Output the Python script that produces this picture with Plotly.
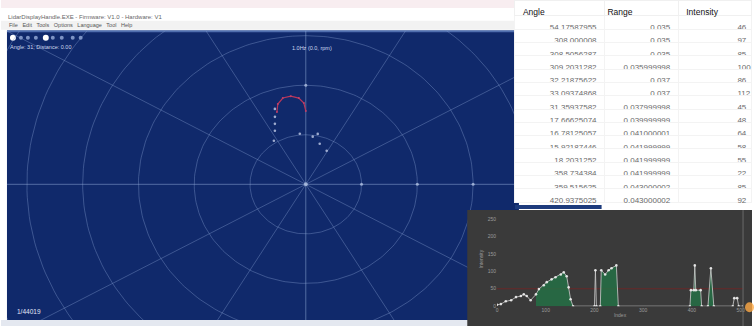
import numpy as np
import plotly.graph_objects as go

W, H = 754, 329

# ---------------- data ----------------
# Table of lidar samples
table_header = ["Angle", "Range", "Intensity"]
table_angle = ["54.17587955", "308.000008", "308.5056287", "309.2031282", "32.21875622",
               "33.09374868", "31.35937582", "17.66625074", "16.78125057", "15.92187446",
               "18.2031252", "358.734384", "359.515625", "420.9375025"]
table_range = ["0.035", "0.035", "0.035", "0.035999998", "0.037", "0.037", "0.037999998",
               "0.039999999", "0.041000001", "0.041999999", "0.041999999", "0.041999999",
               "0.043000002", "0.043000002"]
table_intensity = ["46", "97", "85", "100", "86", "112", "45", "48", "64", "58", "55", "22", "85", "92"]

# Radar view points (angle in degrees clockwise from up, range in metres)
arc_angle = [340.5, 342.8, 346.7, 351.4, 355.9, 358.8, 0.0]
arc_range = [0.0310, 0.0339, 0.0358, 0.0360, 0.0349, 0.0328, 0.0296]
pts_angle = [340.0, 337.9, 335.6, 332.9, 327.0, 354.0, 7.4, 11.9, 17.0, 28.9]
pts_range = [0.0324, 0.0294, 0.0268, 0.0243, 0.0210, 0.0205, 0.0194, 0.0208, 0.0171, 0.0155]
ring_radii = [0.02, 0.04, 0.06, 0.08, 0.10, 0.12]
spoke_angles = list(range(0, 360, 30))

# Intensity chart
chart_index = [0, 8, 18, 29, 39, 49, 55, 61, 69, 80, 86, 96, 102, 112, 120, 131, 137, 143, 147, 151,
               156, 200, 202, 204, 212, 214, 222, 229, 235, 245, 249, 396, 398, 404, 406, 408, 418,
               420, 433, 439, 445, 484, 487, 493, 496, 505]
chart_intensity = [4, 6, 14, 17, 26, 29, 34, 29, 17, 34, 49, 60, 69, 77, 83, 91, 97, 86, 54, 20,
                   0, 0, 103, 0, 0, 103, 91, 103, 109, 117, 0, 0, 46, 46, 117, 46, 46,
                   0, 0, 109, 0, 0, 23, 23, 0, 0]
green_spans = [(78, 156), (212, 249), (396, 420), (433, 445)]
threshold = 50
x_ticks = [0, 100, 200, 300, 400, 500]
y_ticks = [0, 50, 100, 150, 200, 250]

# ---------------- helpers ----------------
def px(x):
    return x / W

def py(y):
    return 1 - y / H

def pol2xy(ang, rng):
    a = np.radians(np.asarray(ang, dtype=float))
    r = np.asarray(rng, dtype=float)
    return r * np.sin(a), r * np.cos(a)

FONT = "Liberation Sans, Arial, sans-serif"
NB = "\u00a0"
fig = go.Figure()

# ---------------- radar (subplot xy) ----------------
grid_col = "rgba(130,155,205,0.40)"
t = np.linspace(0, 2 * np.pi, 241)
for r in ring_radii:
    fig.add_trace(go.Scatter(x=r * np.sin(t), y=r * np.cos(t), mode="lines",
                             line=dict(color=grid_col, width=1), hoverinfo="skip",
                             xaxis="x", yaxis="y"))
for a in spoke_angles:
    sx, sy = pol2xy([a, a], [0, 0.14])
    fig.add_trace(go.Scatter(x=sx, y=sy, mode="lines",
                             line=dict(color=grid_col if a % 90 else "rgba(150,175,220,0.5)", width=1),
                             hoverinfo="skip", xaxis="x", yaxis="y"))
mx, my = pol2xy([90, 90, 90, 0], ring_radii[:3] + [0.04])
fig.add_trace(go.Scatter(x=mx, y=my, mode="markers", marker=dict(size=3, color="rgba(190,205,235,0.7)"),
                         hoverinfo="skip", xaxis="x", yaxis="y"))
cx, cy = pol2xy([0], [0])
fig.add_trace(go.Scatter(x=cx, y=cy, mode="markers", marker=dict(size=4, color="rgba(190,205,235,0.7)"),
                         hoverinfo="skip", xaxis="x", yaxis="y"))
wx, wy = pol2xy(pts_angle, pts_range)
fig.add_trace(go.Scatter(x=wx, y=wy, mode="markers", marker=dict(size=2.6, color="rgba(205,215,240,0.75)"),
                         xaxis="x", yaxis="y"))
ax_, ay_ = pol2xy(arc_angle, arc_range)
fig.add_trace(go.Scatter(x=ax_, y=ay_, mode="lines+markers", line=dict(color="#b8365a", width=1.2),
                         marker=dict(size=2, color="#c0406a"), xaxis="x", yaxis="y"))

# ---------------- panel background (subplot x2y2) ----------------
fig.add_trace(go.Scatter(x=[0, 1, 1, 0, 0], y=[0, 0, 1, 1, 0], mode="lines", fill="toself",
                         fillcolor="#3a3a3a", line=dict(width=0), hoverinfo="skip",
                         xaxis="x2", yaxis="y2"))

# ---------------- intensity chart (subplot x3y3) ----------------
green_y = [v if any(a <= i <= b for a, b in green_spans) else None
           for i, v in zip(chart_index, chart_intensity)]
fig.add_trace(go.Scatter(x=[chart_index[0], chart_index[-1]], y=[threshold, threshold], mode="lines",
                         line=dict(color="rgba(120,35,35,0.75)", width=1.2), xaxis="x3", yaxis="y3"))
fig.add_trace(go.Scatter(x=chart_index, y=green_y, mode="lines", fill="tozeroy", connectgaps=False,
                         fillcolor="rgba(35,115,70,0.8)", line=dict(width=0), xaxis="x3", yaxis="y3"))
fig.add_trace(go.Scatter(x=chart_index, y=chart_intensity, mode="lines+markers",
                         line=dict(color="rgba(205,205,205,0.8)", width=1),
                         marker=dict(size=2.6, color="rgba(240,240,240,0.9)"), xaxis="x3", yaxis="y3"))

# ---------------- table ----------------
header_text = [table_header[0], table_header[1] + NB * 16, table_header[2]]
fig.add_trace(go.Table(
    domain=dict(x=[px(516), 1], y=[py(212), py(1)]),
    columnwidth=[90, 74, 74],
    header=dict(values=header_text, align=["left", "right", "left"], height=15, fill_color="white",
                line=dict(color="#f0f0f0", width=1),
                font=dict(family=FONT, size=8.5, color="#111")),
    cells=dict(values=[table_angle, table_range, [NB * 23 + v for v in table_intensity]],
               align=["right", "right", "left"], height=13.3, fill_color="white",
               line=dict(color="#f3f3f3", width=1),
               font=dict(family=FONT, size=8, color="#6a6a6a")),
))

# ---------------- axes ----------------
hidden = dict(visible=False, showgrid=False, zeroline=False, fixedrange=True)
cxp = 306
cyp = 186
fig.update_layout(
    xaxis=dict(domain=[px(6), px(520)], range=[(6 - cxp) / 2800, (520 - cxp) / 2800], anchor="y", **hidden),
    yaxis=dict(domain=[py(323), py(31)], range=[-(323 - cyp) / 2500, (cyp - 31) / 2500], anchor="x", **hidden),
    xaxis2=dict(domain=[px(468), 1], range=[0, 1], anchor="y2", **hidden),
    yaxis2=dict(domain=[0, py(212)], range=[0, 1], anchor="x2", **hidden),
    xaxis3=dict(domain=[px(498), px(745)], range=[0, 505], anchor="y3", tickvals=x_ticks,
                showgrid=False, zeroline=False, showline=False, ticks="",
                tickfont=dict(family=FONT, size=5, color="#9a9a9a"),
                title=dict(text="Index", font=dict(family=FONT, size=5, color="#9a9a9a"), standoff=1)),
    yaxis3=dict(domain=[py(309), py(214)], range=[0, 270], anchor="x3", tickvals=y_ticks,
                showgrid=False, zeroline=False, showline=False, ticks="",
                tickfont=dict(family=FONT, size=5, color="#9a9a9a"),
                title=dict(text="Intensity", font=dict(family=FONT, size=5, color="#9a9a9a"), standoff=3)),
)

# ---------------- window chrome ----------------
def rect(x0, x1, y0, y1, fill, layer="below"):
    return dict(type="rect", xref="paper", yref="paper", x0=px(x0), x1=px(x1), y0=py(y1), y1=py(y0),
                fillcolor=fill, line_width=0, layer=layer)

shapes = [
    rect(0, 520, 0, 8, "#f8edf0"),
    rect(0, 520, 21, 30, "#f2f2f2"),
    rect(0, 468, 323, 329, "#e4e8f0"),
    rect(6, 520, 31, 323, "#10296b"),
    rect(6, 520, 30.5, 32.5, "#4f6eae"),
    rect(516, 603, 207, 211, "#1d3b7c"),
    dict(type="line", xref="paper", yref="paper", x0=px(745), x1=px(745), y0=0, y1=py(212),
         line=dict(color="#6a6a6a", width=1), layer="above"),
    dict(type="circle", xref="paper", yref="paper", x0=px(747), x1=px(756), y0=py(315), y1=py(305),
         fillcolor="rgba(255,170,70,0.8)", line_width=0, layer="above"),
]
for xc, r, fill in [(12, 3, "white"), (20, 2, "#7d93c4"), (27, 2, "#7d93c4"), (35, 2, "#7d93c4"),
                    (45, 3, "white"), (52, 2, "#7d93c4"), (61, 2, "#7d93c4"), (72, 2, "#7d93c4"),
                    (80, 2, "#7d93c4")]:
    shapes.append(dict(type="circle", xref="paper", yref="paper", x0=px(xc - r), x1=px(xc + r),
                       y0=py(38 + r), y1=py(38 - r), fillcolor=fill, line_width=0, layer="below"))
fig.update_layout(shapes=shapes)


def note(text, x, y, size=6, color="#555", anchor="left"):
    return dict(text=text, x=px(x), y=py(y), xref="paper", yref="paper", xanchor=anchor, yanchor="middle",
                showarrow=False, font=dict(family=FONT, size=size, color=color))


fig.update_layout(annotations=[
    note("LidarDisplayHandle.EXE - Firmware: V1.0 - Hardware: V1", 5, 17, 6, "#666"),
    note("File   Edit   Tools   Options   Language   Tool   Help", 6, 25.5, 5.5, "#555"),
    note("Angle: 31; Distance: 0.00", 7, 47, 5.5, "#cfd8ee"),
    note("1.0Hz (0.0, rpm)", 290, 48, 5.5, "#cfd8ee"),
    note("1/44019", 14, 314, 6.5, "#e0e7f7"),
])

fig.update_layout(width=W, height=H, autosize=False, margin=dict(l=0, r=0, t=0, b=0, pad=0),
                  paper_bgcolor="white", plot_bgcolor="rgba(0,0,0,0)", showlegend=False)

fig.write_html("out.html")
